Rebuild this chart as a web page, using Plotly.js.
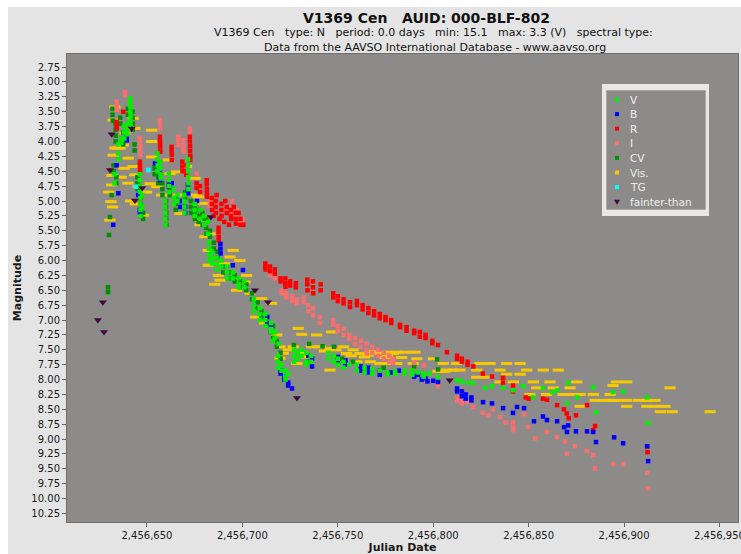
<!DOCTYPE html>
<html><head><meta charset="utf-8">
<script src="https://cdn.plot.ly/plotly-3.0.1.min.js"></script>
<style>
html,body{margin:0;padding:0;background:#ffffff;width:741px;height:554px;overflow:hidden}
#chart{position:absolute;left:8px;top:7px;width:733px;height:547px}
</style>
</head><body><div id="chart"></div>
<script>
// ---------------- DATA (Julian Date, magnitude) ----------------
const vObs = [
[2456641.2,3.28],[2456641.2,3.35],[2456641.3,3.42],[2456641.3,3.50],[2456641.4,3.58],[2456641.4,3.66],[2456641.5,3.74],
[2456639.5,3.70],[2456639.5,3.80],[2456639.6,3.88],[2456638.0,3.75],[2456638.0,3.85],[2456638.1,3.95],
[2456636.5,3.95],[2456636.5,4.02],[2456635.0,4.05],[2456635.0,4.20],[2456635.1,4.30],[2456633.0,4.55],[2456633.0,4.70],
[2456646.3,4.55],[2456646.3,4.65],[2456646.4,4.75],[2456646.4,4.85],[2456646.5,4.95],[2456646.5,5.05],[2456646.6,5.15],[2456646.6,5.25],
[2456647.5,4.90],[2456647.5,5.10],
[2456655.5,4.20],[2456655.5,4.30],[2456655.6,4.40],[2456655.6,4.50],
[2456657.0,4.35],[2456657.0,4.45],[2456657.1,4.55],[2456657.1,4.62],
[2456659.5,5.00],[2456659.5,5.10],[2456659.6,5.20],[2456659.6,5.30],[2456659.7,5.40],
[2456661.5,4.55],[2456661.5,4.65],[2456661.6,4.75],[2456661.6,4.85],
[2456664.0,4.80],[2456664.0,4.95],[2456664.1,5.05],[2456666.0,4.90],[2456666.0,5.00],
[2456669.5,4.90],[2456669.5,5.00],[2456669.6,5.10],[2456669.6,5.20],
[2456671.5,4.30],[2456671.5,4.40],[2456671.6,4.50],[2456671.6,4.60],[2456671.7,4.70],[2456671.7,4.80],
[2456675.0,5.05],[2456675.0,5.15],[2456675.1,5.25],[2456678.0,5.15],[2456678.0,5.30],
[2456680.0,5.25],[2456680.0,5.40],[2456682.0,5.35],[2456682.0,5.55],
[2456682.5,5.70],[2456682.5,5.80],[2456682.6,5.90],[2456682.6,6.00],
[2456684.0,5.85],[2456684.0,5.95],[2456684.1,6.05],[2456686.5,5.95],[2456686.5,6.05],[2456686.6,6.15],
[2456689.0,6.00],[2456689.0,6.10],[2456692.0,6.10],[2456692.0,6.20],[2456692.1,6.30],
[2456695.0,6.20],[2456695.0,6.30],[2456698.0,6.30],[2456698.0,6.40],[2456698.1,6.45],
[2456701.0,6.35],[2456701.0,6.45],
[2456706.0,6.65],[2456706.0,6.75],[2456706.1,6.85],[2456709.0,6.80],[2456709.0,6.90],[2456709.1,7.00],
[2456712.0,6.90],[2456712.0,7.00],[2456712.1,7.10],[2456715.0,7.05],[2456715.0,7.15],[2456715.1,7.20],
[2456716.0,7.35],[2456717.0,7.20],[2456717.0,7.30],
[2456718.5,7.60],[2456718.5,7.70],[2456718.6,7.80],[2456719.0,7.40],
[2456720.5,7.75],[2456720.5,7.85],[2456722.5,7.85],[2456722.5,7.95],[2456722.6,8.00],[2456724.0,7.90],
[2456727.0,7.50],[2456727.0,7.60],[2456727.1,7.70],[2456729.0,7.55],[2456729.0,7.65],
[2456731.0,7.50],[2456731.0,7.60],[2456733.5,7.55],[2456733.5,7.70],[2456733.6,7.75],
[2456736.0,7.60],[2456736.0,7.70],
[2456745.0,7.55],[2456745.0,7.65],[2456748.0,7.60],[2456748.0,7.70],[2456750.0,7.65],[2456750.0,7.75],
[2456753.0,7.70],[2456753.0,7.80],[2456756.0,7.75],
[2456760.0,7.75],[2456760.0,7.85],[2456764.0,7.80],[2456764.0,7.88],[2456768.0,7.82],[2456768.0,7.90],
[2456772.0,7.85],[2456776.0,7.88],[2456776.0,7.92],[2456780.0,7.86],[2456780.0,7.90],
[2456785.0,7.85],[2456785.0,7.90],[2456789.0,7.85],[2456789.0,7.92],[2456792.0,7.88],
[2456795.0,7.90],[2456795.0,7.95],[2456798.0,7.90],[2456802.5,7.96],
[2456812.5,8.01],[2456815.0,8.03],[2456818.0,8.05],[2456820.9,8.06],
[2456827.2,8.14],[2456830.8,8.11],[2456836.6,8.14],[2456841.8,8.18],[2456847.1,8.11],[2456852.3,8.30],
[2456857.5,8.14],[2456862.3,8.21],[2456864.9,8.18],[2456870.1,8.40],[2456870.7,8.06],[2456875.4,8.30],
[2456883.8,8.13],[2456885.3,8.55],[2456894.2,8.21],[2456899.5,8.20],[2456912.1,8.30],[2456912.6,8.73]
];
const bObs = [
[2456639.4,3.92],[2456639.4,3.98],[2456634.1,4.40],[2456635.0,4.87],[2456632.3,5.40],[2456645.4,4.90],[2456646.3,5.15],[2456646.3,5.20],
[2456654.2,4.37],[2456656.8,4.53],[2456656.8,4.60],[2456656.9,4.65],[2456661.5,4.70],[2456661.5,4.76],[2456663.0,4.70],
[2456667.5,5.00],[2456667.5,5.10],[2456670.0,5.10],[2456670.0,5.20],[2456671.5,4.72],[2456671.5,4.80],[2456671.6,4.87],
[2456676.2,5.00],[2456688.5,5.72],[2456688.5,5.80],[2456688.6,5.88],[2456695.0,6.08],[2456700.3,6.16],
[2456713.0,6.95],[2456713.0,7.05],[2456715.0,7.10],[2456715.0,7.20],
[2456720.0,7.85],[2456720.0,7.90],[2456722.0,7.95],[2456722.0,8.00],[2456724.0,8.05],[2456724.0,8.10],[2456726.0,8.15],
[2456734.5,7.60],[2456734.5,7.70],[2456736.5,7.65],[2456736.5,7.78],
[2456750.0,7.62],[2456750.0,7.70],[2456754.0,7.68],[2456754.0,7.75],
[2456762.0,7.78],[2456762.0,7.85],[2456766.0,7.80],[2456766.0,7.88],[2456772.0,7.85],[2456772.0,7.92],
[2456776.0,7.90],[2456778.0,7.88],[2456782.0,7.85],
[2456790.0,7.95],[2456792.0,7.92],[2456794.0,8.00],[2456796.0,7.98],[2456797.0,8.03],[2456800.0,8.02],[2456802.5,8.04],
[2456812.5,8.15],[2456812.5,8.20],[2456815.0,8.20],[2456815.0,8.28],[2456817.0,8.25],[2456817.0,8.32],[2456820.0,8.30],[2456820.0,8.35],
[2456826.1,8.38],[2456830.8,8.40],[2456836.6,8.48],[2456841.8,8.56],[2456843.9,8.46],[2456847.6,8.48],
[2456852.8,8.70],[2456857.5,8.62],[2456859.6,8.68],[2456864.9,8.70],[2456868.6,8.80],[2456870.7,8.77],
[2456870.1,8.88],[2456874.8,8.87],[2456880.6,8.87],[2456883.8,8.88],[2456885.3,9.05],[2456894.8,8.97],
[2456899.5,9.07],[2456912.1,9.12],[2456912.6,9.37]
];
const rObs = [
[2456637.6,3.50],[2456634.1,3.67],[2456634.1,3.72],[2456634.2,3.78],
[2456646.3,4.34],[2456646.3,4.40],[2456646.4,4.45],[2456646.4,4.51],
[2456656.8,3.92],[2456656.8,3.98],[2456656.9,4.04],[2456656.9,4.10],[2456657.0,4.17],
[2456662.9,4.09],[2456662.9,4.15],[2456663.0,4.22],[2456663.0,4.31],
[2456668.5,4.34],[2456668.5,4.42],[2456668.6,4.50],[2456670.5,4.40],[2456670.5,4.50],[2456670.6,4.56],
[2456672.5,3.92],[2456672.5,4.00],[2456672.6,4.08],[2456672.6,4.16],[2456672.7,4.24],[2456672.7,4.31],
[2456676.0,4.70],[2456676.0,4.78],[2456677.8,4.75],[2456677.8,4.85],
[2456681.3,4.65],[2456681.3,4.72],[2456681.4,4.80],[2456681.4,4.87],[2456681.5,4.93],
[2456684.0,4.95],[2456684.0,5.05],[2456684.1,5.15],[2456686.0,5.00],[2456686.0,5.10],[2456686.1,5.20],
[2456687.5,5.45],[2456687.5,5.52],[2456687.6,5.60],[2456687.6,5.66],
[2456689.0,5.05],[2456689.0,5.15],[2456689.1,5.25],[2456691.8,5.10],[2456691.8,5.20],
[2456694.0,5.15],[2456694.0,5.25],[2456694.1,5.30],[2456696.5,5.20],[2456696.5,5.30],[2456696.6,5.38],
[2456699.0,5.30],[2456699.0,5.40],[2456700.5,5.40],
[2456685.0,5.25],[2456688.0,5.30],[2456690.5,5.35],[2456693.0,5.40],[2456695.5,5.10],[2456698.0,5.20],[2456691.0,5.00],[2456686.5,4.90],
[2456712.0,6.05],[2456712.0,6.10],[2456712.1,6.15],[2456714.5,6.10],[2456714.5,6.18],[2456717.0,6.15],[2456717.0,6.22],
[2456720.0,6.30],[2456720.0,6.35],[2456722.5,6.30],[2456722.5,6.38],[2456722.6,6.44],[2456725.0,6.35],[2456725.0,6.42],
[2456728.0,6.38],[2456728.0,6.45],[2456734.0,6.32],[2456734.0,6.40],[2456734.1,6.50],
[2456737.0,6.35],[2456737.0,6.45],[2456737.1,6.55],[2456741.0,6.40],[2456741.0,6.50],
[2456747.6,6.55],[2456747.6,6.62],[2456750.0,6.60],[2456750.0,6.68],[2456753.0,6.65],[2456753.0,6.72],
[2456756.4,6.70],[2456756.4,6.78],[2456760.0,6.68],[2456760.0,6.75],[2456763.0,6.75],[2456763.0,6.82],
[2456766.0,6.80],[2456766.0,6.88],[2456769.0,6.85],[2456769.0,6.92],[2456772.0,6.90],[2456772.0,6.97],
[2456775.0,6.95],[2456775.0,7.00],[2456778.0,7.00],[2456778.0,7.05],[2456782.6,7.08],[2456782.6,7.12],
[2456786.0,7.12],[2456786.0,7.18],[2456790.0,7.18],[2456790.0,7.22],[2456793.0,7.20],[2456793.0,7.28],
[2456796.0,7.25],[2456796.0,7.30],[2456799.5,7.35],[2456799.5,7.39],[2456802.5,7.42],[2456807.2,7.54],
[2456812.5,7.60],[2456812.5,7.65],[2456815.0,7.65],[2456815.0,7.70],[2456818.0,7.70],[2456818.0,7.75],[2456821.0,7.78],
[2456826.0,7.90],[2456830.8,7.95],[2456836.6,7.97],[2456836.6,8.05],[2456841.8,8.10],[2456841.8,8.20],
[2456848.5,8.30],[2456850.0,8.32],[2456857.5,8.32],[2456859.6,8.34],[2456864.9,8.43],[2456868.5,8.50],
[2456870.0,8.57],[2456871.0,8.65],[2456874.8,8.60],[2456880.6,8.43],[2456883.8,8.85],[2456884.8,8.78],
[2456912.1,9.12],[2456912.3,9.22]
];
const iObs = [
[2456638.5,3.17],[2456638.5,3.22],[2456634.1,3.33],[2456634.1,3.40],[2456634.2,3.47],
[2456646.3,3.94],[2456646.3,4.00],[2456646.4,4.08],[2456646.4,4.15],[2456646.5,4.23],
[2456656.8,3.64],[2456656.8,3.70],[2456656.9,3.78],[2456666.4,3.92],[2456666.4,3.98],[2456666.5,4.06],
[2456669.0,3.98],[2456669.0,4.05],[2456669.1,4.12],[2456669.1,4.17],
[2456672.5,3.78],[2456672.5,3.85],[2456672.6,3.92],[2456672.6,3.98],[2456676.0,4.54],
[2456683.0,5.00],[2456683.0,5.08],[2456686.0,5.05],[2456690.0,5.15],[2456692.0,5.10],[2456692.0,5.18],
[2456694.5,5.00],[2456694.5,5.12],[2456694.6,5.20],[2456697.0,5.15],[2456697.0,5.21],[2456698.0,5.40],
[2456700.0,5.30],[2456700.0,5.38],
[2456714.5,6.19],[2456714.5,6.25],[2456717.0,6.25],[2456717.0,6.30],[2456719.7,6.33],
[2456720.5,6.50],[2456720.5,6.55],[2456723.0,6.55],[2456723.0,6.62],[2456726.0,6.60],[2456726.0,6.68],
[2456728.5,6.65],[2456728.5,6.72],[2456732.0,6.62],[2456732.0,6.70],[2456734.5,6.75],[2456734.5,6.85],
[2456737.0,6.80],[2456737.0,6.92],[2456740.5,6.95],[2456740.5,7.05],
[2456747.6,7.00],[2456747.6,7.08],[2456750.0,7.10],[2456750.0,7.18],[2456753.0,7.15],[2456753.0,7.25],
[2456756.0,7.25],[2456756.0,7.32],[2456759.0,7.30],[2456759.0,7.40],[2456762.0,7.35],[2456762.0,7.45],
[2456765.0,7.40],[2456765.0,7.50],[2456765.1,7.56],[2456768.0,7.45],[2456768.0,7.55],
[2456771.0,7.50],[2456771.0,7.60],[2456774.0,7.55],[2456774.0,7.65],[2456777.0,7.60],[2456777.0,7.70],
[2456779.0,7.65],[2456779.0,7.72],[2456790.0,7.72],[2456795.0,7.76],[2456802.5,8.11],
[2456812.5,8.30],[2456812.5,8.36],[2456815.0,8.35],[2456815.0,8.40],[2456818.0,8.38],[2456820.9,8.46],
[2456826.0,8.56],[2456829.0,8.60],[2456831.3,8.50],[2456835.0,8.63],[2456838.0,8.72],
[2456841.8,8.72],[2456841.8,8.80],[2456841.9,8.85],[2456847.6,8.58],[2456849.7,8.80],[2456853.4,8.99],
[2456859.6,8.88],[2456864.9,8.97],[2456869.0,9.04],[2456870.1,9.25],[2456874.3,9.12],[2456880.6,9.20],
[2456883.8,9.27],[2456884.8,9.49],[2456894.2,9.42],[2456899.5,9.42],[2456912.1,9.57],[2456912.6,9.83]
];
const cvObs = [
[2456632.0,3.45],[2456632.0,3.55],[2456632.1,3.65],[2456633.5,3.70],[2456633.5,3.80],[2456633.6,3.90],[2456633.6,4.00],
[2456636.0,3.60],[2456636.0,3.70],[2456637.5,3.85],[2456637.5,3.95],[2456637.6,4.05],
[2456640.0,3.45],[2456640.0,3.55],[2456642.5,3.50],[2456642.5,3.60],[2456642.6,3.70],[2456642.6,3.80],
[2456643.5,4.05],[2456643.5,4.15],[2456630.6,5.27],[2456630.1,5.57],[2456629.6,6.45],[2456629.6,6.53],
[2456632.5,4.40],[2456632.5,4.50],[2456631.5,4.90],[2456634.0,4.60],[2456634.0,4.70],
[2456645.0,4.60],[2456645.0,4.70],[2456645.1,4.80],[2456646.8,4.95],[2456646.8,5.05],[2456646.9,5.15],[2456646.9,5.25],
[2456648.0,5.20],[2456648.0,5.30],
[2456654.0,4.45],[2456654.0,4.55],[2456656.0,4.60],[2456656.0,4.70],[2456658.0,4.70],[2456658.0,4.80],[2456658.1,4.90],
[2456660.0,5.00],[2456660.0,5.10],[2456660.1,5.20],[2456660.1,5.30],[2456660.2,5.40],
[2456662.0,4.80],[2456662.0,4.90],[2456665.0,4.95],[2456665.0,5.05],[2456665.1,5.15],
[2456668.0,5.00],[2456668.0,5.10],[2456670.0,4.85],[2456670.0,4.95],
[2456673.0,5.00],[2456673.0,5.10],[2456673.1,5.20],[2456675.0,5.10],[2456675.0,5.20],[2456675.1,5.30],
[2456677.0,5.15],[2456677.0,5.25],[2456677.1,5.35],[2456679.0,5.20],[2456679.0,5.30],[2456679.1,5.40],
[2456681.0,5.30],[2456681.0,5.45],[2456681.1,5.55],[2456683.0,5.50],[2456683.0,5.60],
[2456685.0,5.70],[2456685.0,5.80],[2456687.0,5.85],[2456687.0,5.95],[2456690.0,6.10],[2456690.0,6.20],
[2456693.0,6.20],[2456693.0,6.30],[2456696.0,6.25],[2456696.0,6.35],[2456699.0,6.35],[2456699.0,6.45],
[2456702.0,6.40],[2456702.0,6.50],[2456705.0,6.55],[2456705.0,6.65],[2456708.0,6.70],[2456708.0,6.80],
[2456710.0,6.85],[2456710.0,6.95],[2456713.0,6.95],[2456713.0,7.05],[2456716.0,7.10],[2456716.0,7.20],[2456716.1,7.30],
[2456718.0,7.35],[2456718.0,7.45],[2456720.0,7.55],[2456720.0,7.65],
[2456727.0,7.42],[2456735.0,7.40],[2456742.0,7.44],[2456748.0,7.45],[2456752.0,7.65],[2456758.0,7.70],
[2456774.0,7.80],[2456790.0,7.78],[2456802.0,7.66],[2456802.5,7.83]
];
const visObs = [
[2456633.2,3.42],[2456632.3,3.64],[2456633.2,4.11],[2456632.3,4.23],[2456631.7,4.57],[2456631.5,4.73],[2456631.1,5.01],
[2456630.6,5.32],[2456637.6,4.06],[2456638.5,3.86],[2456640.2,4.28],[2456642.8,3.61],[2456643.7,3.78],[2456642.8,4.42],
[2456643.7,4.56],[2456645.4,4.76],[2456648.1,5.24],[2456649.8,4.85],[2456652.5,3.81],[2456652.5,4.00],[2456652.5,4.26],
[2456651.6,4.71],[2456655.1,4.76],[2456657.7,4.90],[2456661.2,4.31],[2456662.1,4.54],[2456665.6,4.51],[2456666.4,4.90],
[2456667.3,5.21],[2456670.8,4.42],[2456675.2,4.62],[2456676.9,4.93],[2456679.5,5.04],[2456677.8,5.40],[2456683.0,5.55],
[2456634.5,4.11],[2456636.0,4.11],[2456630.0,4.85],[2456632.0,5.10],[2456636.5,4.60],[2456638.0,4.45],[2456640.0,4.70],
[2456641.5,5.00],[2456644.0,5.05],
[2456676.0,4.90],[2456677.8,5.32],[2456680.4,5.60],[2456682.1,5.83],[2456682.1,6.08],[2456695.2,5.83],[2456693.5,5.94],
[2456698.7,6.00],[2456687.4,6.25],[2456688.3,6.33],[2456702.2,6.25],[2456701.4,6.36],[2456710.1,6.64],[2456715.3,6.72],
[2456718.0,7.25],[2456729.3,7.14],[2456731.1,7.24],[2456738.9,7.25],[2456746.8,7.20],[2456719.7,7.45],[2456721.4,7.56],
[2456719.7,7.64],[2456726.7,7.45],[2456736.3,7.45],[2456740.7,7.45],[2456745.9,7.48],[2456752.9,7.45],[2456754.6,7.56],
[2456761.6,7.56],[2456772.1,7.56],[2456779.1,7.56],[2456772.1,7.73],[2456779.1,7.73],[2456728.5,7.73],[2456733.7,7.62],
[2456745.9,7.84],[2456766.0,7.59],[2456768.6,7.53],
[2456724.0,7.50],[2456731.0,7.55],[2456743.0,7.52],[2456749.0,7.50],[2456757.0,7.60],[2456764.0,7.62],[2456758.0,7.50],
[2456776.0,7.60],[2456760.0,7.70],[2456767.0,7.70],
[2456775.6,7.54],[2456780.9,7.54],[2456785.2,7.54],[2456790.5,7.54],[2456775.6,7.73],[2456780.9,7.73],[2456789.5,7.73],
[2456774.7,7.63],[2456783.5,7.63],[2456791.4,7.65],[2456800.1,7.65],[2456807.1,7.84],[2456810.6,7.84],[2456814.0,7.84],
[2456805.3,7.73],[2456812.3,7.73],[2456824.5,7.73],[2456829.8,7.73],[2456838.5,7.73],[2456845.5,7.73],[2456822.8,7.84],
[2456835.0,7.84],[2456857.7,7.84],[2456865.5,7.84],[2456822.8,7.96],[2456828.0,7.96],[2456835.0,8.04],[2456842.0,8.04],
[2456852.5,8.04],[2456861.2,8.04],[2456875.2,8.04],[2456854.2,8.14],[2456862.9,8.14],[2456871.7,8.14],[2456850.7,8.25],
[2456859.4,8.25],[2456873.4,8.25],[2456883.9,8.25],[2456892.7,8.25],[2456884.8,8.35],[2456894.4,8.35],[2456901.4,8.35],
[2456907.5,8.35],[2456911.9,8.35],[2456916.2,8.35],[2456876.9,8.45],[2456901.4,8.45],[2456911.9,8.45],[2456916.2,8.45],
[2456921.5,8.45],[2456919.0,8.54],[2456925.2,8.54],[2456894.2,8.10],[2456896.0,8.04],[2456901.4,8.04],[2456924.1,8.14],
[2456945.1,8.54],[2456838.5,7.91],[2456845.5,7.91],[2456849.0,7.84],
[2456802.5,7.86],[2456804.5,7.86],[2456806.0,7.86],[2456889.0,8.35],[2456892.0,8.35],[2456897.0,8.35],
[2456868.0,8.25],[2456877.0,8.25],
[2456704.0,6.55],[2456707.0,6.95],[2456711.5,7.05],[2456690.5,6.05],[2456685.5,6.40],[2456697.0,6.50]
];
const tgObs = [[2456650.7,4.48],[2456644.2,4.76]];
const fainterObs = [
[2456624.3,7.00],[2456626.9,6.70],[2456627.5,7.20],[2456630.6,4.48],[2456631.5,3.88],[2456642.0,3.78],
[2456647.5,4.78],[2456643.7,4.99],[2456683.5,5.27],[2456706.6,6.50],[2456713.4,6.70],[2456728.6,8.31],[2456808.6,8.01]
];
const seriesNames = ['V','B','R','I','CV','Vis.','TG','fainter-than'];
const xTickStart = 2456650, xTickStep = 50, yTickStep = 0.25;
const xRange = [2456608.1, 2456959.7];
const yRange = [10.393, 2.53];

// ---------------- STYLE ----------------
const colors = {'V':'#00f000','B':'#0000ff','R':'#ff0000','I':'#f76f6f','CV':'#008f00','Vis.':'#f8c800','TG':'#00ffff','fainter-than':'#42093f'};
const FONT = 'DejaVu Sans, Verdana, sans-serif';
const W = 733, H = 547, M = {l:59, r:3, t:47, b:32};
const PW = W - M.l - M.r, PH = H - M.t - M.b;
const px = x => (x - 8 - M.l) / PW;          // page x -> paper
const py = y => 1 - (y - 7 - M.t) / PH;      // page y -> paper

function sq(name, obs) {
  return {type:'scatter', mode:'markers', name:name, showlegend:false,
    x: obs.map(p => p[0]), y: obs.map(p => p[1]),
    marker:{symbol:'square', size:4.5, color:colors[name], line:{width:0}}};
}
const traces = [
  {type:'scatter', mode:'markers', name:'Vis.', showlegend:false,
   x: visObs.map(p=>p[0]), y: visObs.map(p=>p[1]),
   marker:{symbol:'line-ew', size:8, color:colors['Vis.'], line:{width:3, color:colors['Vis.']}}},
  sq('CV', cvObs), sq('I', iObs), sq('R', rObs), sq('B', bObs), sq('V', vObs), sq('TG', tgObs),
  {type:'scatter', mode:'markers', name:'fainter-than', showlegend:false,
   x: fainterObs.map(p=>p[0]), y: fainterObs.map(p=>p[1]),
   marker:{symbol:'triangle-down', size:7, color:colors['fainter-than'], line:{width:0}}}
];

// legend (drawn as shapes + annotations)
const shapes = [
  {type:'rect', xref:'paper', yref:'paper', x0:px(602), x1:px(709), y0:py(216), y1:py(84), fillcolor:'#e8e8e8', line:{width:0}, layer:'above'},
  {type:'rect', xref:'paper', yref:'paper', x0:px(606.5), x1:px(705.5), y0:py(209.5), y1:py(90.5), fillcolor:'#8c8b89', line:{width:1, color:'#a9a9a9'}, layer:'above'}
];
const annotations = [
  {text:'<b>V1369 Cen\u00a0\u00a0\u00a0AUID: 000-BLF-802</b>', xref:'paper', yref:'paper', x:px(426), y:py(18), xanchor:'center', yanchor:'middle', showarrow:false, font:{family:FONT, size:14, color:'#111'}},
  {text:'V1369 Cen\u00a0\u00a0\u00a0type: N\u00a0\u00a0\u00a0period: 0.0 days\u00a0\u00a0\u00a0min: 15.1\u00a0\u00a0\u00a0max: 3.3 (V)\u00a0\u00a0\u00a0spectral type:', xref:'paper', yref:'paper', x:px(433), y:py(33), xanchor:'center', yanchor:'middle', showarrow:false, font:{family:FONT, size:11, color:'#111'}},
  {text:'Data from the AAVSO International Database - www.aavso.org', xref:'paper', yref:'paper', x:px(435), y:py(47), xanchor:'center', yanchor:'middle', showarrow:false, font:{family:FONT, size:11, color:'#111'}}
];
seriesNames.forEach((n, i) => {
  const yy = 99.5 + 14.6 * i;
  if (n === 'fainter-than') {
    shapes.push({type:'path', xref:'paper', yref:'paper', xsizemode:'pixel', ysizemode:'pixel', xanchor:px(617), yanchor:py(yy),
      path:'M-3,2 L3,2 L0,-3 Z', fillcolor:colors[n], line:{width:0}, layer:'above'});
  } else {
    shapes.push({type:'rect', xref:'paper', yref:'paper', xsizemode:'pixel', ysizemode:'pixel', xanchor:px(617), yanchor:py(yy),
      x0:-2, x1:2, y0:-2, y1:2, fillcolor:colors[n], line:{width:0}, layer:'above'});
  }
  annotations.push({text:n, xref:'paper', yref:'paper', x:px(628), y:py(yy), xanchor:'left', yanchor:'middle', showarrow:false,
    font:{family:FONT, size:10.5, color:'#eeeeee'}});
});

const layout = {
  width:W, height:H, margin:M, paper_bgcolor:'#e4e4e4', plot_bgcolor:'#8c8b89',
  showlegend:false, font:{family:FONT, color:'#1a1a1a'},
  xaxis:{range:xRange, tick0:xTickStart, dtick:xTickStep, tickformat:',.0f', ticks:'outside', ticklen:4, tickcolor:'#666',
    showline:true, linecolor:'#6e6e6e', mirror:true, showgrid:false, zeroline:false, ticklabeloverflow:'allow',
    tickfont:{family:FONT, size:10, color:'#1a1a1a'},
    title:{text:'<b>Julian Date</b>', font:{family:FONT, size:11, color:'#1a1a1a'}, standoff:2}},
  yaxis:{range:yRange, tick0:2.75, dtick:yTickStep, tickformat:'.2f', ticks:'outside', ticklen:4, tickcolor:'#666',
    showline:true, linecolor:'#6e6e6e', mirror:true, showgrid:false, zeroline:false,
    tickfont:{family:FONT, size:10, color:'#1a1a1a'},
    title:{text:'<b>Magnitude</b>', font:{family:FONT, size:11, color:'#1a1a1a'}, standoff:7}},
  shapes:shapes, annotations:annotations
};
Plotly.newPlot('chart', traces, layout, {staticPlot:true, displayModeBar:false});
</script></body></html>
